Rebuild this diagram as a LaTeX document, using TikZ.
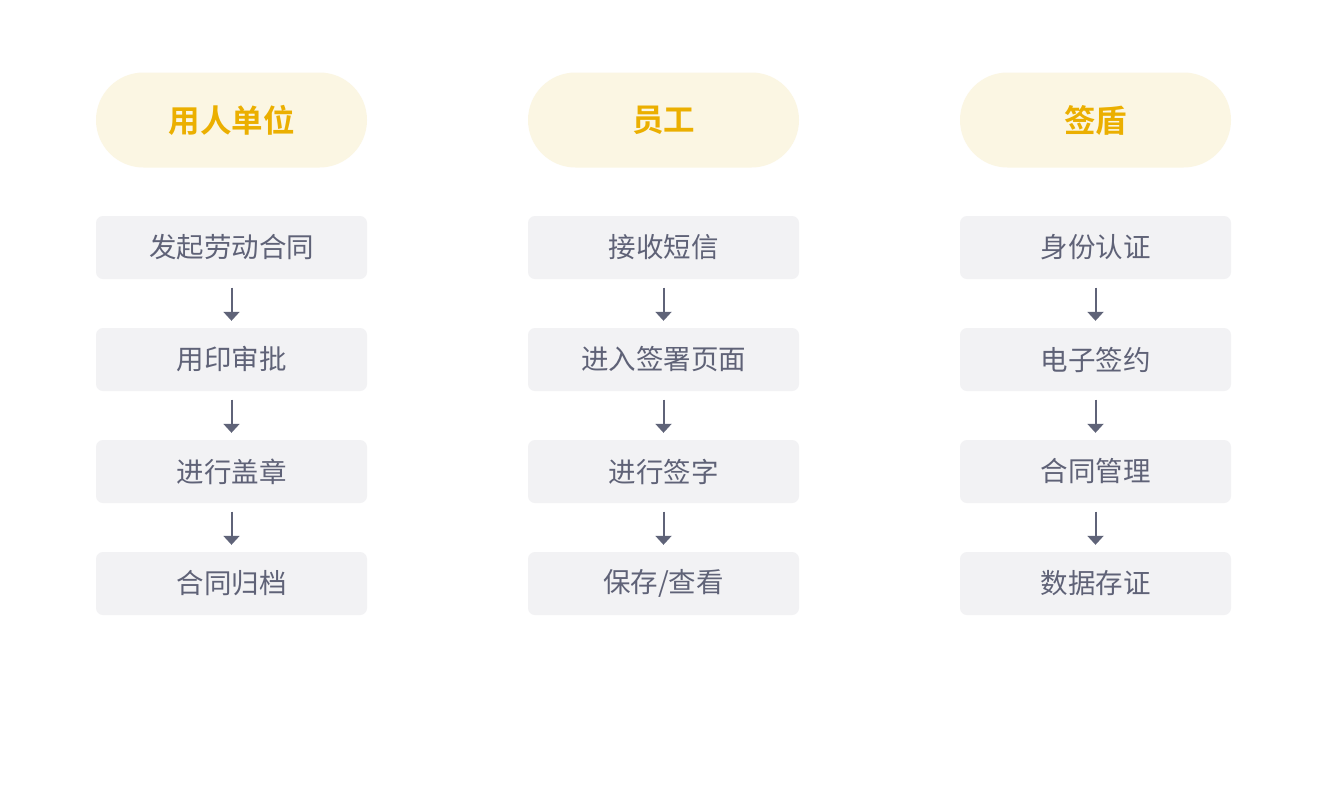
\documentclass[tikz,border=0pt]{standalone}
\usepackage{fontspec}
\setmainfont{Noto Sans CJK SC}
\newfontfamily\cjkbold{Noto Sans CJK SC Bold}
\usetikzlibrary{arrows.meta}
\definecolor{pillfill}{HTML}{FBF6E3}
\definecolor{pilltext}{HTML}{EBAF00}
\definecolor{boxfill}{HTML}{F2F2F4}
\definecolor{boxtext}{HTML}{5F6277}
\definecolor{arrowcol}{HTML}{5F6378}
\tikzset{
  pill/.style={fill=pillfill, rounded corners=47.5pt, minimum width=271pt, minimum height=95pt, inner sep=0pt, text=pilltext, font=\fontsize{31.5}{31.5}\cjkbold},
  stepbox/.style={fill=boxfill, rounded corners=7pt, minimum width=271pt, minimum height=63pt, inner sep=0pt, text=boxtext, font=\fontsize{27.5}{27.5}\selectfont},
  flow/.style={draw=arrowcol, line width=2pt, -{Triangle[width=16pt,length=9pt]}, shorten <=8.5pt, shorten >=7pt}
}
\begin{document}
\begin{tikzpicture}[x=1pt,y=-1pt]
\useasboundingbox (0,0) rectangle (1328,804);
\fill[white] (0,0) rectangle (1328,804);
% column 1
\node[pill] (h1) at (231.5,120) {用人单位};
\node[stepbox] (a1) at (231.5,247.5) {发起劳动合同};
\node[stepbox] (a2) at (231.5,359.5) {用印审批};
\node[stepbox] (a3) at (231.5,471.5) {进行盖章};
\node[stepbox] (a4) at (231.5,583.5) {合同归档};
% column 2
\node[pill] (h2) at (663.5,120) {员工};
\node[stepbox] (b1) at (663.5,247.5) {接收短信};
\node[stepbox] (b2) at (663.5,359.5) {进入签署页面};
\node[stepbox] (b3) at (663.5,471.5) {进行签字};
\node[stepbox] (b4) at (663.5,583.5) {保存/查看};
% column 3
\node[pill] (h3) at (1095.5,120) {签盾};
\node[stepbox] (c1) at (1095.5,247.5) {身份认证};
\node[stepbox] (c2) at (1095.5,359.5) {电子签约};
\node[stepbox] (c3) at (1095.5,471.5) {合同管理};
\node[stepbox] (c4) at (1095.5,583.5) {数据存证};
% arrows
\foreach \p in {a,b,c}{
  \draw[flow] (\p1.south) -- (\p2.north);
  \draw[flow] (\p2.south) -- (\p3.north);
  \draw[flow] (\p3.south) -- (\p4.north);
}
\end{tikzpicture}
\end{document}
